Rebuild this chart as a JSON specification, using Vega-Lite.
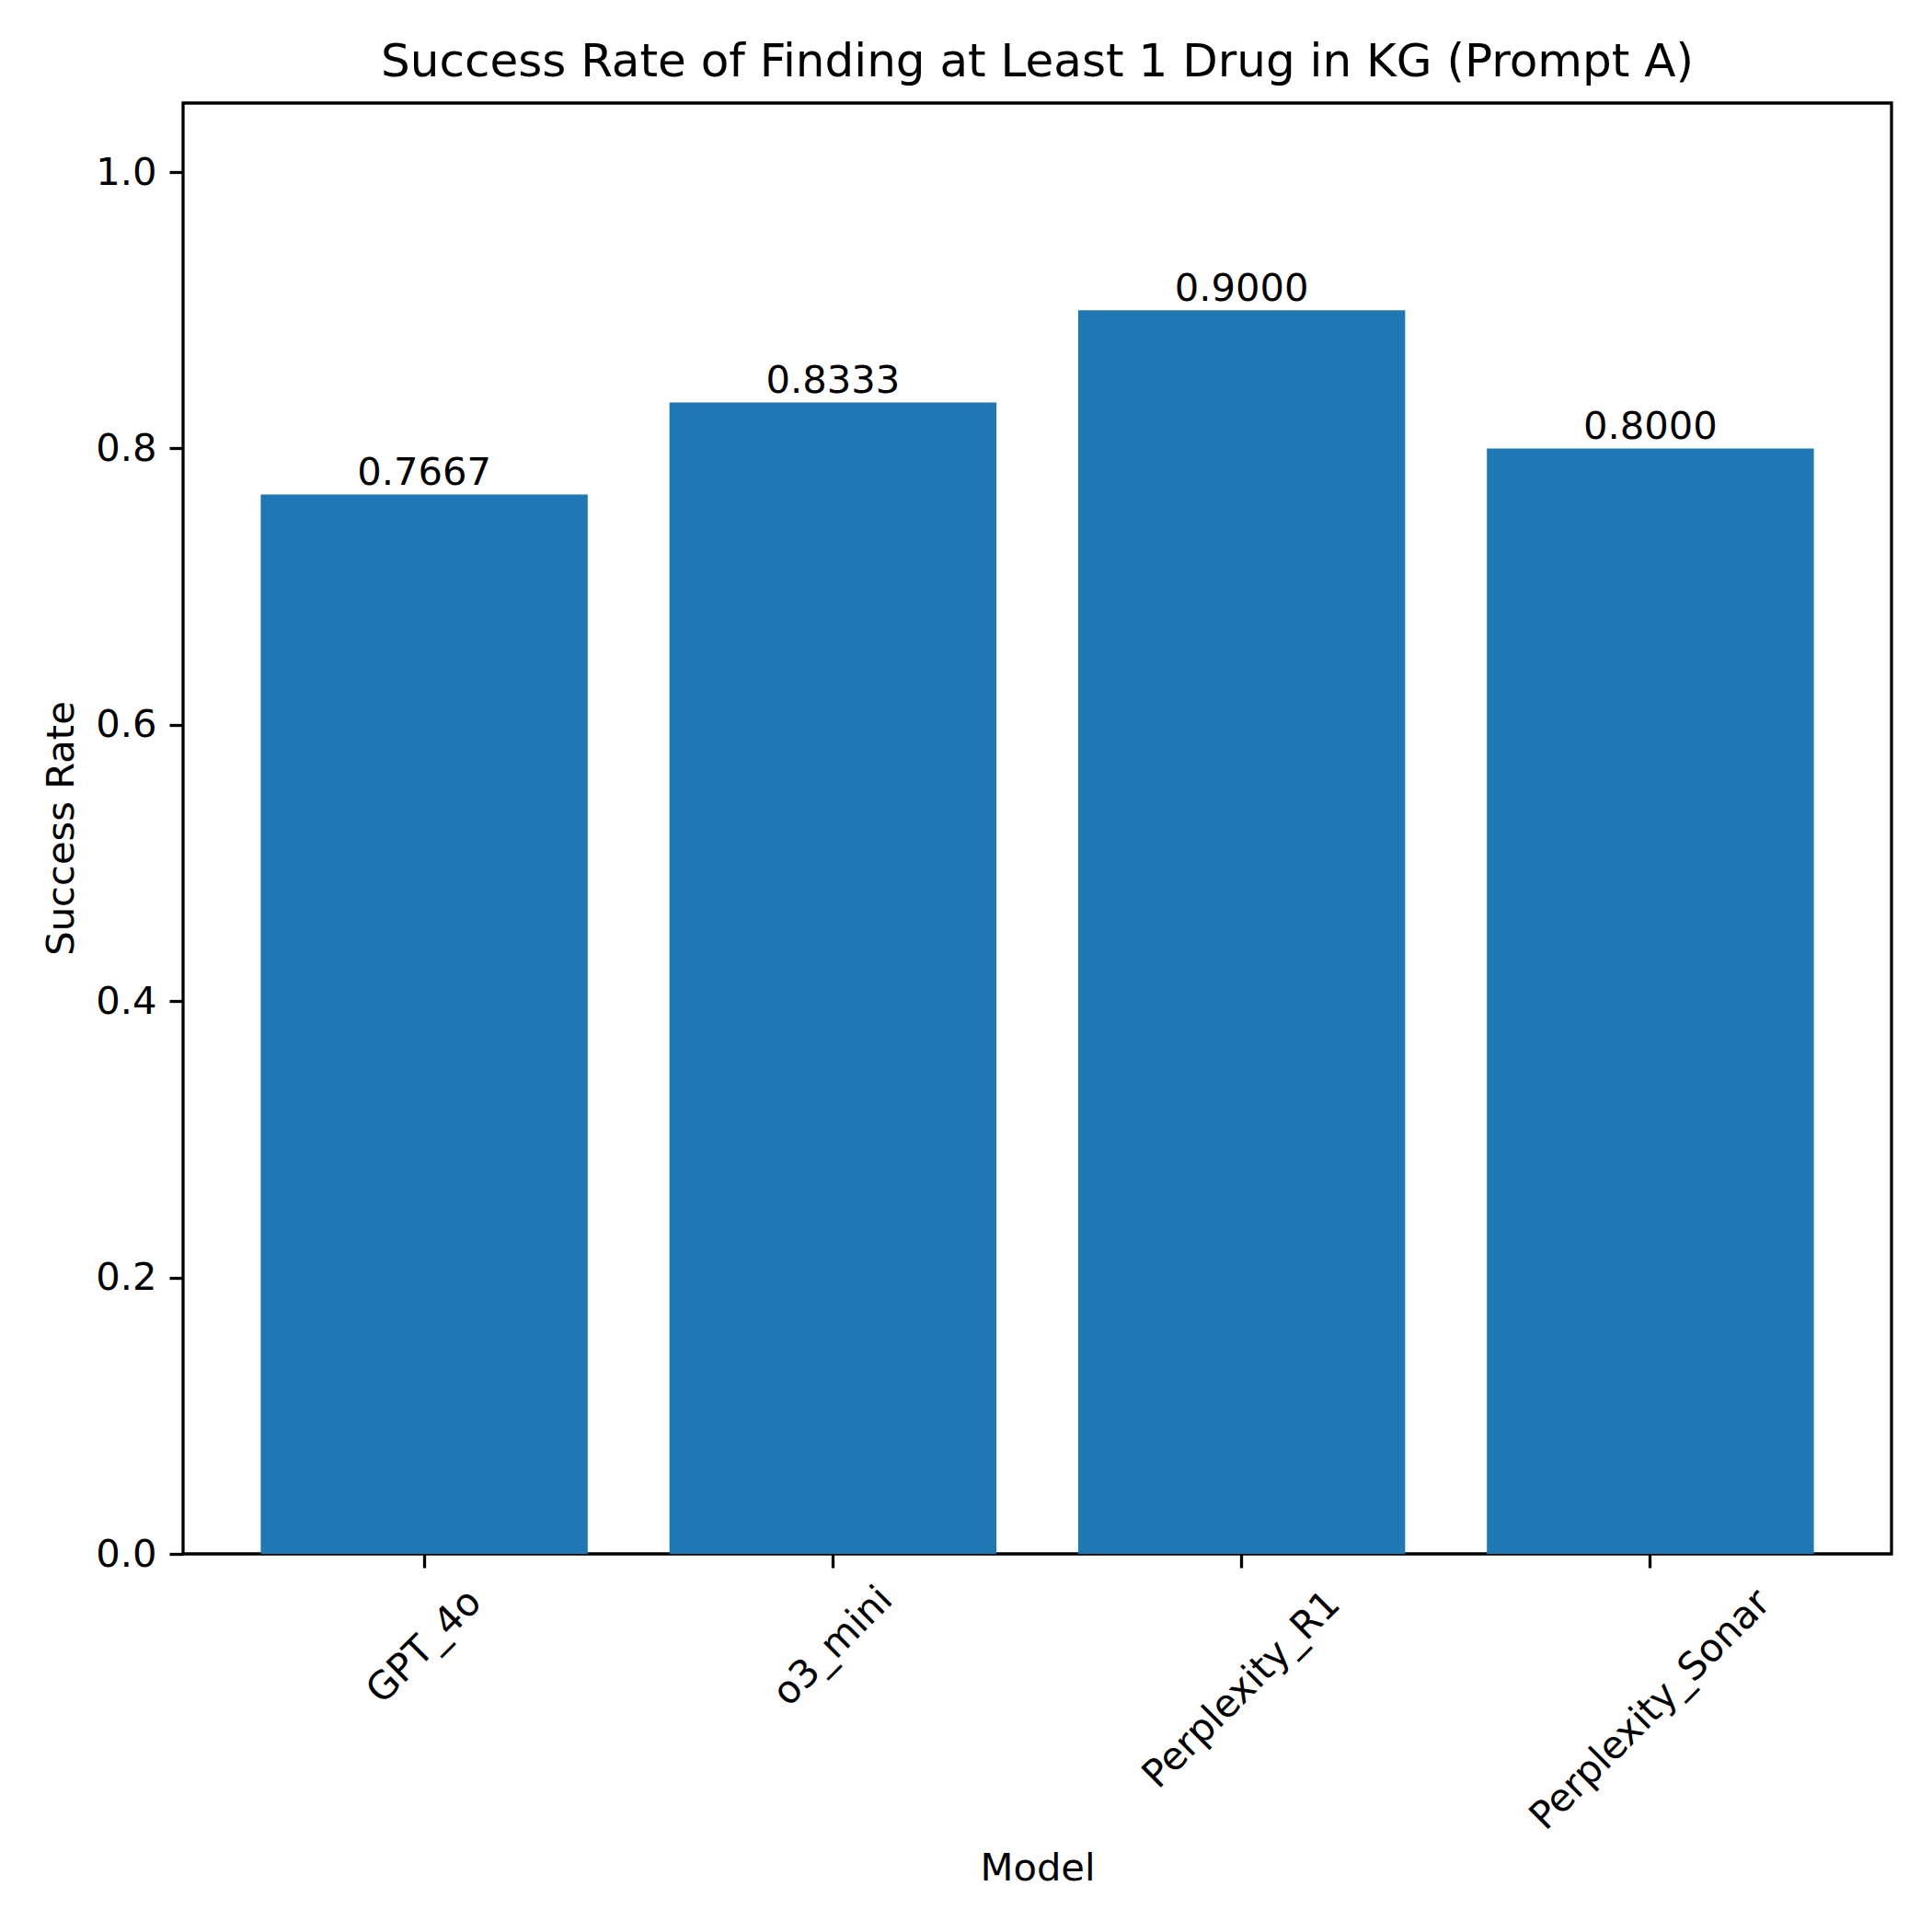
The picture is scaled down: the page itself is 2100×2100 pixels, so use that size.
{
  "$schema": "https://vega.github.io/schema/vega-lite/v6.json",
  "width": 1857,
  "height": 1577,
  "autosize": {"type": "none"},
  "padding": {"left": 199, "top": 112, "right": 44, "bottom": 411},
  "background": "white",
  "title": {
    "text": "Success Rate of Finding at Least 1 Drug in KG (Prompt A)",
    "font": "DejaVu Sans",
    "fontSize": 50,
    "fontWeight": "normal",
    "color": "black",
    "anchor": "middle",
    "frame": "group",
    "baseline": "alphabetic",
    "offset": 26,
    "dy": 47
  },
  "data": {
    "values": [
      {"Model": "GPT_4o", "SuccessRate": 0.7667},
      {"Model": "o3_mini", "SuccessRate": 0.8333},
      {"Model": "Perplexity_R1", "SuccessRate": 0.9},
      {"Model": "Perplexity_Sonar", "SuccessRate": 0.8}
    ]
  },
  "encoding": {
    "x": {
      "field": "Model",
      "type": "nominal",
      "sort": null,
      "scale": {"paddingInner": 0.2, "paddingOuter": 0.19},
      "axis": {
        "title": "Model",
        "titleFont": "DejaVu Sans",
        "titleFontSize": 41.7,
        "titleFontWeight": "normal",
        "titleColor": "black",
        "titleBaseline": "alphabetic",
        "titleY": 354,
        "labelFont": "DejaVu Sans",
        "labelFontSize": 41.7,
        "labelColor": "black",
        "labelAngle": -45,
        "labelAlign": "center",
        "labelBaseline": "middle",
        "labelPadding": {
          "condition": [
            {"test": "datum.value === 'Perplexity_Sonar'", "value": 154},
            {"test": "datum.value === 'Perplexity_R1'", "value": 132}
          ],
          "value": 85
        },
        "labelOverlap": false,
        "labelFlush": false,
        "labelBound": false,
        "labelLimit": 0,
        "tickSize": 15,
        "tickWidth": 3.3,
        "tickColor": "black",
        "domain": false,
        "grid": false
      }
    },
    "y": {
      "field": "SuccessRate",
      "type": "quantitative",
      "scale": {"domain": [0, 1.05], "nice": false, "zero": true},
      "axis": {
        "title": "Success Rate",
        "titleFont": "DejaVu Sans",
        "titleFontSize": 41.7,
        "titleFontWeight": "normal",
        "titleColor": "black",
        "titleBaseline": "alphabetic",
        "titleAngle": -90,
        "titleX": -120,
        "titleY": 788,
        "values": [0, 0.2, 0.4, 0.6, 0.8, 1.0],
        "format": ".1f",
        "labelFont": "DejaVu Sans",
        "labelFontSize": 41.7,
        "labelColor": "black",
        "labelPadding": 14,
        "labelFlush": false,
        "labelOverlap": false,
        "tickSize": 15,
        "tickWidth": 3.3,
        "tickColor": "black",
        "domain": false,
        "grid": false
      }
    }
  },
  "layer": [
    {"mark": {"type": "bar", "color": "#1f77b4"}},
    {
      "mark": {
        "type": "text",
        "font": "DejaVu Sans",
        "fontSize": 41.7,
        "color": "black",
        "align": "center",
        "baseline": "alphabetic",
        "dy": -10
      },
      "encoding": {
        "text": {"field": "SuccessRate", "type": "quantitative", "format": ".4f"}
      }
    }
  ],
  "config": {
    "view": {"stroke": "black", "strokeWidth": 3.3}
  }
}
